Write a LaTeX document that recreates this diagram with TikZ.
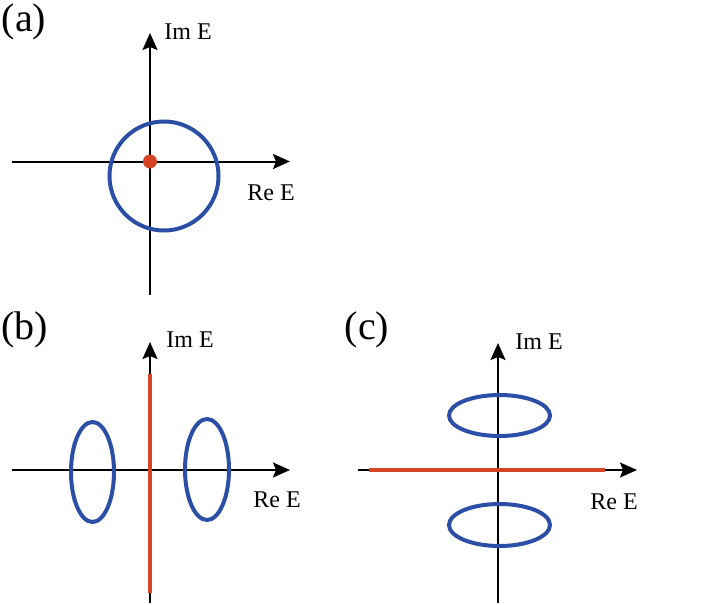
\documentclass[tikz,border=0pt]{standalone}
\usepackage{fontspec}
\setmainfont{Liberation Serif}
\usetikzlibrary{arrows.meta,shapes.geometric}
\definecolor{myblue}{RGB}{43,78,166}
\definecolor{myred}{RGB}{214,68,38}
\tikzset{
  axis/.style={line width=2pt, black, -{Stealth[length=17pt,width=15pt,inset=3pt]}},
  loop/.style={line width=4pt, myblue},
  cut/.style={line width=4.5pt, myred},
  lab/.style={font=\fontsize{24}{28}\selectfont, inner sep=0pt},
  panel/.style={font=\fontsize{40}{44}\selectfont, inner sep=0pt},
}
\begin{document}
\begin{tikzpicture}[x=1pt,y=-1pt]
\useasboundingbox (0,0) rectangle (713,605);
% ---------- (a)
\node[panel] (pa) at (24,22) {(a)};
\coordinate (aL) at (12,161.5);
\coordinate (aR) at (290,161.5);
\coordinate (aB) at (150,295);
\coordinate (aT) at (150,33);
\draw[axis] (aL) -- (aR);
\draw[axis] (aB) -- (aT);
\node[lab] (aim) at (188,32) {Im E};
\node[lab] (are) at (271,193) {Re E};
\node[loop, draw, circle, minimum size=109pt, inner sep=0pt] (acirc) at (164,176) {};
\node[circle, fill=myred, minimum size=14pt, inner sep=0pt] (adot) at (150,161.5) {};
% ---------- (b)
\node[panel] (pb) at (25,330) {(b)};
\coordinate (bL) at (12,470);
\coordinate (bR) at (290,470);
\coordinate (bB) at (150,603);
\coordinate (bT) at (150,342);
\coordinate (bc1) at (150,374);
\coordinate (bc2) at (150,593);
\draw[axis] (bL) -- (bR);
\draw[axis] (bB) -- (bT);
\draw[cut] (bc1) -- (bc2);
\node[lab] (bim) at (190,340) {Im E};
\node[lab] (bre) at (277,500) {Re E};
\node[loop, draw, ellipse, minimum width=43pt, minimum height=100pt, inner sep=0pt] (bel1) at (92.5,472) {};
\node[loop, draw, ellipse, minimum width=44pt, minimum height=101pt, inner sep=0pt] (bel2) at (207,469.5) {};
% ---------- (c)
\node[panel] (pc) at (367,330) {(c)};
\coordinate (cL) at (358,470);
\coordinate (cR) at (637,470);
\coordinate (cB) at (498,603);
\coordinate (cT) at (498,343);
\coordinate (cc1) at (369,470);
\coordinate (cc2) at (605,470);
\draw[axis] (cL) -- (cR);
\draw[axis] (cB) -- (cT);
\draw[cut] (cc1) -- (cc2);
\node[lab] (cim) at (539,342) {Im E};
\node[lab] (cre) at (614,502) {Re E};
\node[loop, draw, ellipse, minimum width=101pt, minimum height=41pt, inner sep=0pt] (cel1) at (499.5,415.5) {};
\node[loop, draw, ellipse, minimum width=101pt, minimum height=42pt, inner sep=0pt] (cel2) at (499.5,525) {};
\end{tikzpicture}
\end{document}
